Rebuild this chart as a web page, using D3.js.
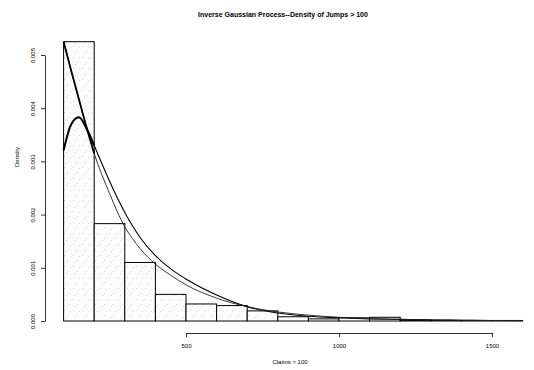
<!DOCTYPE html>
<html><head><meta charset="utf-8">
<script src="https://cdn.jsdelivr.net/npm/d3@7"></script>
<style>body{margin:0;background:#fff}svg{display:block}text{font-family:"Liberation Sans",Arial,sans-serif;fill:#000}</style>
</head><body>
<script>
const title = "Inverse Gaussian Process--Density of Jumps > 100";
const xLabel = "Claims > 100";
const yLabel = "Density";
const binEdges = [100,200,300,400,500,600,700,800,900,1000,1100,1200,1300,1400,1500,1600];
const binDensity = [0.00525,0.00183,0.0011,0.0005,0.00032,0.00029,0.00019,0.00008,0.00004,0.00006,0.00007,0.00002,0.00001,0.00001,0.00001];
const curveX = [100,125,150,175,200,225,250,275,300,325,350,400,450,500,600,700,800,900,1000,1100,1200,1300,1400,1500,1600];
const invGaussDensity = [0.00321,0.0037,0.00383,0.00362,0.0033,0.00296,0.00263,0.00232,0.00204,0.00179,0.00157,0.00123,0.00098,0.00079,0.00049,0.00027,0.00015,0.00009,0.00006,0.00004,0.00003,0.00002,0.000015,0.00001,0.000008];
const fittedDensity = [0.00525,0.0047,0.00417,0.00364,0.00315,0.00275,0.0024,0.00206,0.00177,0.00155,0.00136,0.00107,0.00086,0.00068,0.00043,0.00027,0.00017,0.00011,0.00007,0.000045,0.00003,0.00002,0.000013,0.000009,0.000006];
const xTicks = [500,1000,1500];
const yTicks = [0,0.001,0.002,0.003,0.004,0.005];

const W=534,H=370;
const svg = d3.select("body").append("svg").attr("width",W).attr("height",H);
const x = d3.scaleLinear().domain([500,1500]).range([186,492]);
const y = d3.scaleLinear().domain([0,0.005]).range([321,55]);

// stipple pattern
const defs = svg.append("defs");
const pat = defs.append("pattern").attr("id","stip").attr("patternUnits","userSpaceOnUse").attr("width",9).attr("height",11);
pat.append("rect").attr("width",9).attr("height",11).attr("fill","#fdfdfd");
[[1,2],[5,7],[7,3],[3,9]].forEach(p=>pat.append("rect").attr("x",p[0]).attr("y",p[1]).attr("width",0.8).attr("height",0.8).attr("fill","#c4c4c4"));

svg.append("text").attr("x",283).attr("y",17).attr("text-anchor","middle").attr("font-size",7).attr("font-weight","bold").text(title);

// bars
const bins = binDensity.map((d,i)=>({x0:binEdges[i],x1:binEdges[i+1],d}));
svg.append("g").selectAll("rect").data(bins).join("rect")
  .attr("x",b=>x(b.x0)).attr("width",b=>x(b.x1)-x(b.x0))
  .attr("y",b=>y(b.d)).attr("height",b=>y(0)-y(b.d))
  .attr("fill","url(#stip)").attr("stroke","#000").attr("stroke-width",1);

// curves
const line = d3.line().x((d,i)=>x(curveX[i])).y(d=>y(d)).curve(d3.curveMonotoneX);
svg.append("path").attr("d",line(invGaussDensity)).attr("fill","none").attr("stroke","#000").attr("stroke-width",1.1);
svg.append("path").attr("d",line(fittedDensity)).attr("fill","none").attr("stroke","#222").attr("stroke-width",0.9);
// heavier start segments
const n0 = curveX.filter(v=>v<=200).length;
svg.append("path").attr("d",line(invGaussDensity.slice(0,n0))).attr("fill","none").attr("stroke","#000").attr("stroke-width",2);
svg.append("path").attr("d",line(fittedDensity.slice(0,n0))).attr("fill","none").attr("stroke","#000").attr("stroke-width",1.8);

// x axis
const xa = svg.append("g").attr("transform","translate(0,333)")
  .call(d3.axisBottom(x).tickValues(xTicks).tickSize(4).tickSizeOuter(0).tickFormat(d3.format("d")));
xa.select(".domain").attr("stroke-width",0.8);
xa.selectAll("line").attr("stroke-width",0.8);
xa.selectAll("text").attr("font-size",6).attr("font-family","Liberation Sans, Arial, sans-serif").attr("dy","0.71em").attr("y",11);

// y axis
const ya = svg.append("g").attr("transform","translate(45,0)")
  .call(d3.axisLeft(y).tickValues(yTicks).tickSize(4).tickSizeOuter(0).tickFormat(d3.format(".3f")));
ya.select(".domain").attr("stroke-width",0.8);
ya.selectAll("line").attr("stroke-width",0.8);
ya.selectAll("text").attr("font-size",6).attr("font-family","Liberation Sans, Arial, sans-serif")
  .attr("x",null).attr("dy",null).attr("text-anchor","middle")
  .attr("transform","translate(-10,0) rotate(-90)");

svg.append("text").attr("x",290).attr("y",364).attr("text-anchor","middle").attr("font-size",6).text(xLabel);
svg.append("text").attr("transform","translate(19,157) rotate(-90)").attr("text-anchor","middle").attr("font-size",6).text(yLabel);
</script>
</body></html>
